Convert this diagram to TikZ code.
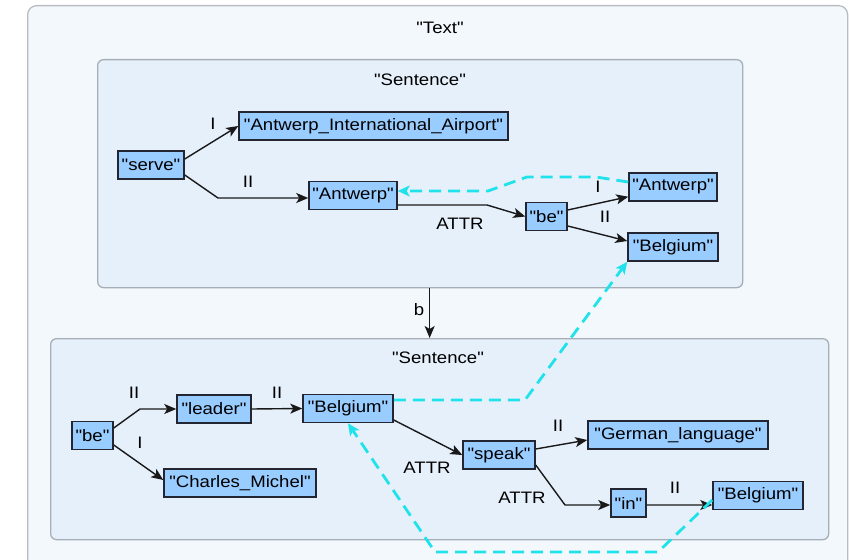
\documentclass[tikz,border=0pt]{standalone}
\usepackage{fontspec}
\setmainfont{Liberation Sans}[Ligatures=TeXOff, FakeStretch=1.12]
\usetikzlibrary{arrows.meta}
\definecolor{tokfill}{RGB}{153,204,255}
\definecolor{tokline}{RGB}{35,38,48}
\definecolor{sentfill}{RGB}{230,240,251}
\definecolor{sentline}{RGB}{168,174,182}
\definecolor{textfill}{RGB}{243,248,253}
\definecolor{textline}{RGB}{185,189,194}
\definecolor{corefline}{RGB}{32,226,234}

\begin{document}
\begin{tikzpicture}[x=1bp,y=-1bp,
  every node/.style={font=\fontsize{16.6bp}{19bp}\selectfont, text=black},
  tok/.style={draw=tokline, fill=tokfill, line width=1.5bp, minimum height=28bp, inner sep=1bp, anchor=center},
  frame/.style={line width=1.3bp, anchor=north west, inner sep=0},
  rel/.style={line width=1.4bp, draw=black!90, -{Stealth[length=12bp,width=10bp,inset=3bp]}},
  lbl/.style={inner sep=0},
  coref/.style={draw=corefline, line width=2.8bp, dash pattern=on 12bp off 7bp,
    -{Stealth[length=12bp,width=11bp,inset=3bp]}}
]
\useasboundingbox (0,0) rectangle (849,560);
\clip (0,0) rectangle (849,560);
\fill[white] (0,0) rectangle (849,560);

% document frame and the two sentence frames
\node[frame, draw=textline, fill=textfill, rounded corners=9bp,
  minimum width=820bp, minimum height=600bp] (txt) at (27,5) {};
\node[lbl] (txtlbl) at (440,28) {"Text"};

\node[frame, draw=sentline, fill=sentfill, rounded corners=6bp,
  minimum width=645bp, minimum height=228bp] (s1) at (97,59) {};
\node[lbl] (s1lbl) at (420,80) {"Sentence"};

\node[frame, draw=sentline, fill=sentfill, rounded corners=6bp,
  minimum width=778bp, minimum height=201bp] (s2) at (50,338) {};
\node[lbl] (s2lbl) at (438,358) {"Sentence"};

% first sentence
\node[tok, minimum width=66bp]  (serve)   at (151,165)   {"serve"};
\node[tok, minimum width=269bp] (airport) at (373.5,126) {"Antwerp\_International\_Airport"};
\node[tok, minimum width=88bp]  (antA)    at (353,195.5) {"Antwerp"};
\node[tok, minimum width=41bp]  (beA)     at (546.5,216.5) {"be"};
\node[tok, minimum width=88bp]  (antB)    at (673,187)   {"Antwerp"};
\node[tok, minimum width=90bp]  (belB)    at (673,247)   {"Belgium"};

% second sentence
\node[tok, minimum width=41bp]  (beC)     at (92.5,435.5) {"be"};
\node[tok, minimum width=74bp]  (leader)  at (214,409)    {"leader"};
\node[tok, minimum width=90bp]  (belM)    at (348,408.5)  {"Belgium"};
\node[tok, minimum width=152bp] (charles) at (240,483)    {"Charles\_Michel"};
\node[tok, minimum width=72bp]  (speak)   at (499,455)    {"speak"};
\node[tok, minimum width=180bp] (german)  at (678,435)    {"German\_language"};
\node[tok, minimum width=35bp]  (in)      at (628.5,503)  {"in"};
\node[tok, minimum width=90bp]  (belR)    at (758,495.5)  {"Belgium"};

% relations, first sentence
\draw[rel] ([yshift=6bp]serve.east) -- (airport.west);
\node[lbl] (l1) at (213,124) {I};
\draw[rel] ([yshift=-10bp]serve.east) -- (218,198) -- ([yshift=-2.5bp]antA.west);
\node[lbl] (l2) at (248,182) {II};
\draw[rel] ([yshift=-9.5bp]antA.east) -- (487,205) -- (beA.west);
\node[lbl] (l3) at (460,224) {ATTR};
\draw[rel] ([yshift=6.5bp]beA.east) -- ([yshift=5bp]antB.south west);
\node[lbl] (l4) at (598,187) {I};
\draw[rel] ([yshift=-9.5bp]beA.east) -- ([yshift=6bp]belB.west);
\node[lbl] (l5) at (605,217) {II};

% link between the sentences
\draw[rel] ([xshift=9.5bp]s1.south) -- ([xshift=9.5bp]s1.south |- s2.north);
\node[lbl] (l6) at (419,310) {b};

% relations, second sentence
\draw[rel] ([yshift=7.5bp]beC.east) -- (140,409) -- (leader.west);
\node[lbl] (l7) at (134,393) {II};
\draw[rel] (leader.east) -- (belM.west);
\node[lbl] (l8) at (277,393) {II};
\draw[rel] ([yshift=-9.5bp]beC.east) -- ([yshift=3bp]charles.west);
\node[lbl] (l9) at (140,443) {I};
\draw[rel] ([yshift=-11.5bp]belM.east) -- (speak.west);
\node[lbl] (l10) at (427,468) {ATTR};
\draw[rel] ([yshift=6bp]speak.east) -- ([yshift=-5bp]german.west);
\node[lbl] (l11) at (558,426) {II};
\draw[rel] ([yshift=-10bp]speak.east) -- (565,505) -- ([yshift=-2bp]in.west);
\node[lbl] (l12) at (522,498) {ATTR};
\draw[rel] ([yshift=-2bp]in.east) -- ([yshift=-9.5bp]belR.west);
\node[lbl] (l13) at (675,488) {II};

% coreference links
\draw[coref] ([yshift=5bp]antB.west) -- (596,177) -- (527,177) -- (488,191)
  -- ([yshift=4.5bp]antA.east);
\draw[coref] ([yshift=8.5bp]belM.east) -- (525,400) -- (belB.south west);
\draw[coref] ([yshift=-4.5bp]belR.west) -- (658,552) -- (435,552) -- (belM.south);
\end{tikzpicture}
\end{document}
